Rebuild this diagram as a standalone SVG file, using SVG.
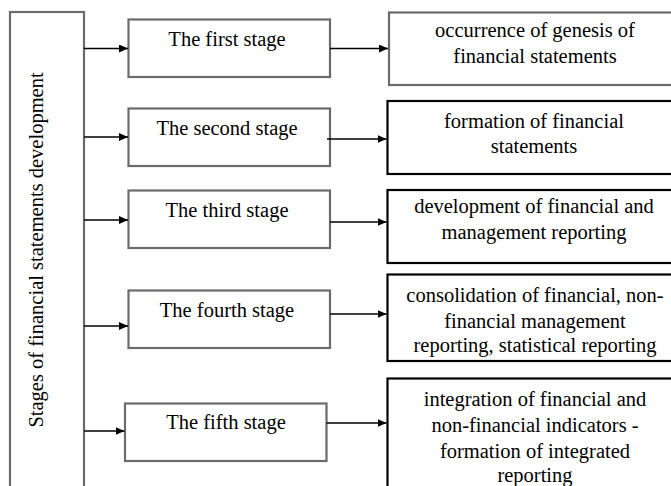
<svg xmlns="http://www.w3.org/2000/svg" width="671" height="486" viewBox="0 0 671 486">
<defs>
<marker id="ah" markerWidth="9" markerHeight="8" refX="9" refY="4" orient="auto" markerUnits="userSpaceOnUse">
<path d="M0,0 L9,4 L0,8 Z" fill="#000"/>
</marker>
<style>
.g{fill:#fff;stroke:#6b6b6b;stroke-width:2.2}
.b{fill:#fff;stroke:#000;stroke-width:2.2}
text{font-family:'Times New Roman',Times,Tinos,'Liberation Serif','Noto Serif','DejaVu Serif',serif;font-size:20.5px;fill:#000;text-anchor:middle}
.c line{stroke:#000;stroke-width:1.5;marker-end:url(#ah)}
</style>
</defs>
<rect width="671" height="486" fill="#fff"/>
<g id="root">
<rect class="g" x="10" y="12" width="74" height="490"/>
<text transform="translate(43,250) rotate(-90)">Stages of financial statements development</text>
</g>
<g id="stage1"><rect class="g" x="128.5" y="19.5" width="201.5" height="57.5"/><text x="227" y="46">The first stage</text></g>
<g id="stage2"><rect class="g" x="128.5" y="108.5" width="201.5" height="57.5"/><text x="227" y="135">The second stage</text></g>
<g id="stage3"><rect class="g" x="128.5" y="190.5" width="201.5" height="57.5"/><text x="227" y="217">The third stage</text></g>
<g id="stage4"><rect class="g" x="128.5" y="290.5" width="201.5" height="57.5"/><text x="227" y="317">The fourth stage</text></g>
<g id="stage5"><rect class="g" x="125" y="403.5" width="201.5" height="57.5"/><text x="226" y="429">The fifth stage</text></g>
<g id="res1"><rect class="g" x="389" y="12.5" width="300" height="72.5"/><text x="535" y="37">occurrence of genesis of</text><text x="535" y="63">financial statements</text></g>
<g id="res2"><rect class="b" x="387.5" y="101" width="300" height="73"/><text x="534" y="128">formation of financial</text><text x="534" y="153">statements</text></g>
<g id="res3"><rect class="b" x="387.5" y="190" width="300" height="73"/><text x="534" y="213">development of financial and</text><text x="534" y="239">management reporting</text></g>
<g id="res4"><rect class="b" x="387.5" y="274.5" width="300" height="86.5"/><text x="535" y="302">consolidation of financial, non-</text><text x="535" y="328">financial management</text><text x="535" y="352">reporting, statistical reporting</text></g>
<g id="res5"><rect class="b" x="387.5" y="378.5" width="300" height="120"/><text x="535" y="406">integration of financial and</text><text x="535" y="432">non-financial indicators -</text><text x="535" y="458">formation of integrated</text><text x="535" y="482">reporting</text></g>
<g id="connectors" class="c">
<line x1="84" y1="48.5" x2="128" y2="48.5"/>
<line x1="84" y1="137" x2="128" y2="137"/>
<line x1="84" y1="220" x2="128" y2="220"/>
<line x1="84" y1="326" x2="128" y2="326"/>
<line x1="84" y1="431" x2="124.5" y2="431"/>
<line x1="330" y1="48.5" x2="388" y2="48.5"/>
<line x1="327" y1="139" x2="386.5" y2="139"/>
<line x1="330" y1="222" x2="386.5" y2="222"/>
<line x1="330" y1="314" x2="386.5" y2="314"/>
<line x1="326.5" y1="423" x2="386.5" y2="423"/>
</g>
</svg>
